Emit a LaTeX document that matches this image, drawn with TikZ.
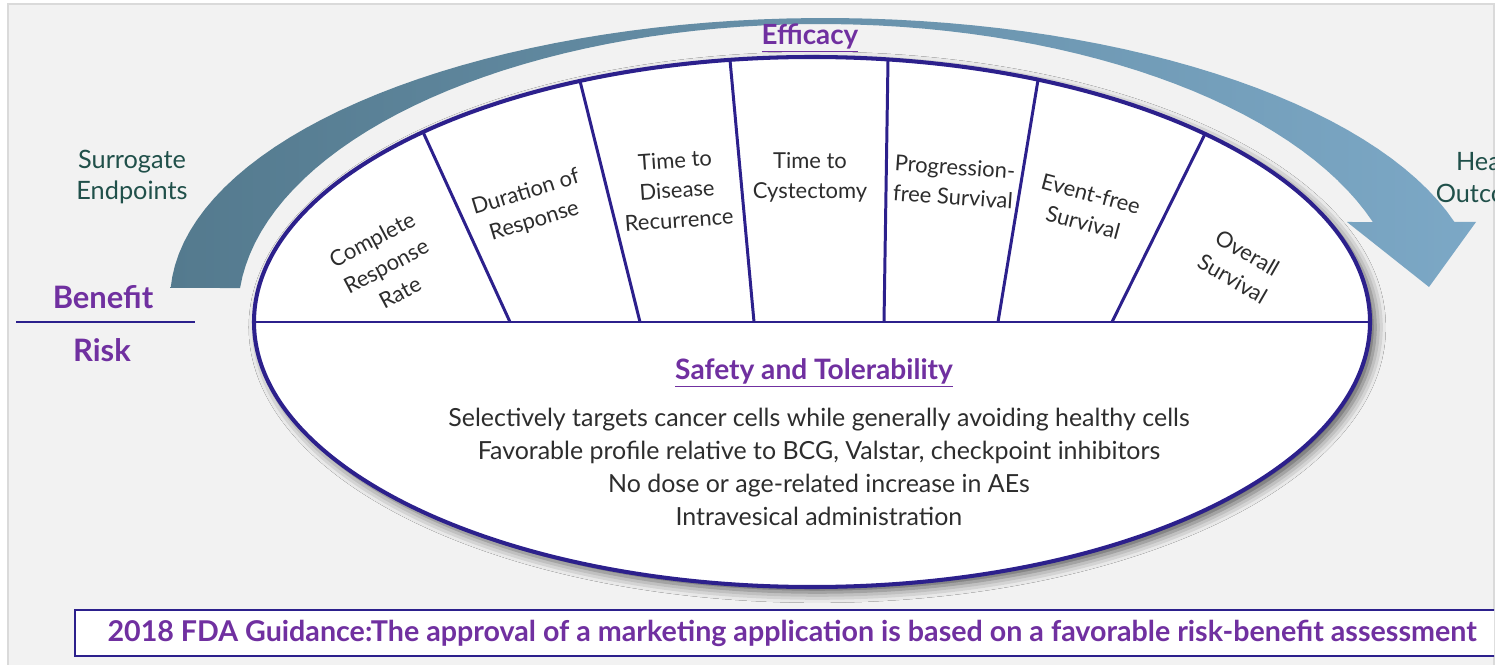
\documentclass[tikz,border=0pt]{standalone}
\usepackage{fontspec}
\setmainfont{Lato}
\usetikzlibrary{shadows.blur}
\definecolor{panelgray}{RGB}{242,242,242}
\definecolor{panelline}{RGB}{218,218,218}
\definecolor{rimblue}{RGB}{44,32,140}
\definecolor{headpurple}{RGB}{112,48,160}
\definecolor{bandleft}{RGB}{84,122,142}
\definecolor{bandright}{RGB}{124,168,198}
\definecolor{endteal}{RGB}{32,80,74}
\definecolor{labelgray}{RGB}{45,45,45}

\begin{document}
\begin{tikzpicture}[x=0.02cm,y=-0.02cm,
  rim/.style={draw=rimblue,line width=2.3pt},
  spoke/.style={draw=rimblue,line width=1.7pt},
  sector/.style={text=labelgray,font=\fontsize{12.5}{17}\selectfont,align=center,inner sep=0pt},
  endpoint/.style={text=endteal,font=\fontsize{14.4}{18}\selectfont,align=center,inner sep=0pt},
  heading/.style={text=headpurple,font=\fontsize{15.8}{18}\selectfont\bfseries,inner sep=0pt},
  bullet/.style={text=labelgray,font=\fontsize{14.2}{18.8}\selectfont,align=center,inner sep=0pt}]
\useasboundingbox (0,0) rectangle (1500,665);
\fill[white] (0,0) rectangle (1500,665);
\fill[panelgray] (8,4) rectangle (1494,665);
\draw[panelline,line width=0.6pt] (8,667) -- (8,4) -- (1494,4) -- (1494,667);
\begin{scope}
\clip (8,4) rectangle (1494,665);

\shade[left color=bandleft,right color=bandright]
  plot[domain=177.56:16.06,samples=70,variable=\t] ({825+655*cos(\t)},{300-282*sin(\t)})
  -- (1476,222) -- (1429,287) -- (1347,222)
  -- plot[domain=18.21:175.22,samples=70,variable=\t] ({820+582*cos(\t)},{312-288*sin(\t)})
  -- cycle;

\fill[white,blur shadow={shadow xshift=3pt,shadow yshift=-3pt,shadow blur radius=6pt,shadow opacity=65}]
  (812,322) ellipse [x radius=558,y radius=265];
\draw[spoke] (255,322) -- (1370,322);
\draw[spoke] (510,322) -- (423,132);
\draw[spoke] (640,322) -- (580,81);
\draw[spoke] (754,322) -- (730,60);
\draw[spoke] (884,322) -- (888,60);
\draw[spoke] (998,322) -- (1038,80);
\draw[spoke] (1112,322) -- (1205,134);
\draw[rim] (812,322) ellipse [x radius=558,y radius=265];

\node[sector,rotate=28] (crr) at (386,266) {Complete\\Response\\Rate};
\node[sector,rotate=17] (dor) at (530,207) {Duration of\\Response};
\node[sector,rotate=4] (ttr) at (677,190) {Time to\\Disease\\Recurrence};
\node[sector] (ttc) at (810,177) {Time to\\Cystectomy};
\node[sector,rotate=-4] (pfs) at (954,182) {Progression-\\free Survival};
\node[sector,rotate=-15] (efs) at (1087,208) {Event-free\\Survival};
\node[sector,rotate=-30] (os) at (1240,266) {Overall\\Survival};

\node[heading] (efficacy) at (810,38) {\underline{Efficacy}};
\node[endpoint] (surrogate) at (132,177) {Surrogate\\Endpoints};
\node[endpoint] (health) at (1493,177) {Health\\Outcomes};

\node[heading,font=\fontsize{17.6}{18}\selectfont\bfseries] (benefit) at (103,297) {Benefit};
\node[heading,font=\fontsize{17.6}{18}\selectfont\bfseries] (risk) at (102,350) {Risk};
\coordinate (ratioL) at (16,322);
\coordinate (ratioR) at (195,322);
\draw[draw=rimblue,line width=1.7pt] (ratioL) -- (ratioR);

\node[heading,font=\fontsize{16}{18}\selectfont\bfseries] (safety) at (814,373) {\underline{Safety and Tolerability}};
\node[bullet] (safetext) at (819,467) {Selectively targets cancer cells while generally avoiding healthy cells\\
  Favorable profile relative to BCG, Valstar, checkpoint inhibitors\\
  No dose or age-related increase in AEs\\
  Intravesical administration};

\draw[rimblue,line width=1.7pt,fill=white] (75,610) rectangle (1510,656);
\node[heading,font=\fontsize{16.3}{18}\selectfont\bfseries] (guidance) at (792,633)
  {2018 FDA Guidance:The approval of a marketing application is based on a favorable risk-benefit assessment};
\end{scope}
\end{tikzpicture}
\end{document}
